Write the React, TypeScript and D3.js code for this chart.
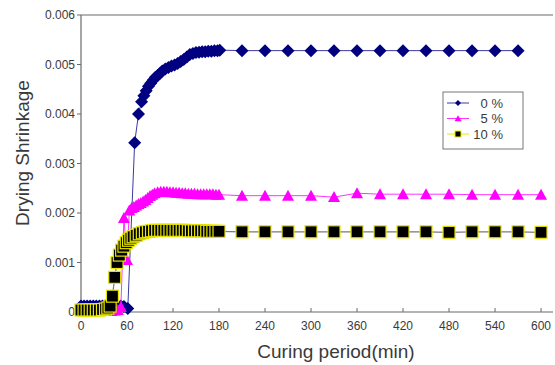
import React from "react";
import * as d3 from "d3";

const xTicks = [0, 60, 120, 180, 240, 300, 360, 420, 480, 540, 600];
const yTicks = [0, 0.001, 0.002, 0.003, 0.004, 0.005, 0.006];
const yTickLabels = ["0", "0.001", "0.002", "0.003", "0.004", "0.005", "0.006"];
const seriesNames = ["0 %", "5 %", "10 %"];

const times0 = [0, 4, 8, 12, 16, 20, 24, 28, 32, 36, 40, 44, 48, 52, 56, 61, 70, 75, 79, 82, 85, 88, 91, 94, 97, 100, 103, 106, 110, 114, 118, 122, 126, 130, 134, 138, 142, 146, 150, 154, 158, 162, 166, 170, 174, 178, 181,
  210, 240, 270, 300, 330, 360, 390, 420, 450, 480, 510, 540, 570];
const values0 = [0.00012, 0.00012, 0.00012, 0.00012, 0.00012, 0.00012, 0.00012, 0.00012, 0.00012, 0.00012, 0.00012, 0.00012, 0.00012, 0.00012, 0.00011, 0.00007, 0.00342, 0.0040, 0.00425, 0.00437, 0.00447, 0.00456, 0.00462, 0.00468, 0.00474, 0.00478, 0.00482, 0.00487, 0.00491, 0.00494, 0.00497, 0.00499, 0.00502, 0.00506, 0.0051, 0.00515, 0.0052, 0.00522, 0.00524, 0.00525, 0.00526, 0.00526, 0.00527, 0.00527, 0.00528, 0.00528, 0.00529,
  0.00528, 0.00528, 0.00528, 0.00528, 0.00528, 0.00528, 0.00528, 0.00528, 0.00528, 0.00528, 0.00528, 0.00528, 0.00528];

const times5 = [0, 4, 8, 12, 16, 20, 24, 28, 32, 36, 40, 44, 48, 52, 56, 60, 63, 66, 69, 72, 75, 78, 81, 84, 87, 90, 93, 96, 100, 104, 108, 112, 116, 120, 124, 128, 132, 136, 140, 144, 148, 152, 156, 160, 164, 168, 172, 176, 180,
  210, 240, 270, 300, 330, 360, 390, 420, 450, 480, 510, 540, 570, 600];
const values5 = [0.00002, 0.00002, 0.00002, 0.00002, 0.00002, 0.00002, 0.00002, 0.00002, 0.00002, 0.00002, 0.00002, 0.00003, 0.00004, 0.0001, 0.0019, 0.00105, 0.00205, 0.0021, 0.00212, 0.00215, 0.00218, 0.0022, 0.00223, 0.00226, 0.0023, 0.00234, 0.00237, 0.0024, 0.00242, 0.00243, 0.00243, 0.00243, 0.00242, 0.00242, 0.00241, 0.00241, 0.0024, 0.0024, 0.00239, 0.00239, 0.00239, 0.00238, 0.00238, 0.00238, 0.00238, 0.00238, 0.00238, 0.00237, 0.00237,
  0.00235, 0.00235, 0.00235, 0.00235, 0.00232, 0.0024, 0.00238, 0.00238, 0.00238, 0.00238, 0.00237, 0.00237, 0.00237, 0.00237];

const times10 = [0, 4, 8, 12, 16, 20, 24, 28, 32, 35, 38, 41, 44, 47, 50, 53, 56, 59, 62, 65, 68, 72, 76, 80, 84, 88, 92, 96, 100, 104, 108, 112, 116, 120, 124, 128, 132, 136, 140, 144, 148, 152, 156, 160, 164, 168, 172, 176, 180,
  210, 240, 270, 300, 330, 360, 390, 420, 450, 480, 510, 540, 570, 600];
const values10 = [0.00004, 0.00004, 0.00004, 0.00004, 0.00004, 0.00004, 0.00004, 0.00005, 0.00006, 0.00008, 0.00012, 0.00032, 0.0007, 0.001, 0.00115, 0.00125, 0.00133, 0.0014, 0.00145, 0.00149, 0.00152, 0.00155, 0.00158, 0.0016, 0.00162, 0.00163, 0.00164, 0.00165, 0.00165, 0.00165, 0.00165, 0.00165, 0.00165, 0.00165, 0.00165, 0.00165, 0.00165, 0.00165, 0.00164, 0.00164, 0.00164, 0.00164, 0.00164, 0.00164, 0.00163, 0.00163, 0.00163, 0.00163, 0.00163,
  0.00162, 0.00162, 0.00162, 0.00162, 0.00162, 0.00162, 0.00162, 0.00162, 0.00162, 0.00161, 0.00162, 0.00162, 0.00162, 0.00161];

const W = 555;
const H = 365;
const FONT = "'Liberation Sans', Arial, sans-serif";

export default function App() {
  const x = d3.scaleLinear().domain([0, 615.6]).range([81, 553]);
  const y = d3.scaleLinear().domain([0, 0.006]).range([312, 15]);

  const line = d3
    .line<[number, number]>()
    .x((d) => x(d[0]))
    .y((d) => y(d[1]));

  const s0 = times0.map((t, i) => [t, values0[i]] as [number, number]);
  const s5 = times5.map((t, i) => [t, values5[i]] as [number, number]);
  const s10 = times10.map((t, i) => [t, values10[i]] as [number, number]);

  const diamond = (cx: number, cy: number, r: number) =>
    `M${cx},${cy - r}L${cx + r},${cy}L${cx},${cy + r}L${cx - r},${cy}Z`;
  const tri = (cx: number, cy: number, w: number, h: number) =>
    `M${cx},${cy - h * 0.55}L${cx + w / 2},${cy + h * 0.45}L${cx - w / 2},${cy + h * 0.45}Z`;

  const axisColor = "#6a6a6a";
  const textColor = "#3a3a3a";

  const legendRows = [103, 118.5, 134];

  return (
    <svg width={W} height={H} style={{ position: "absolute", left: 0, top: 0, background: "#fff" }}>
      <rect x={0} y={0} width={W} height={H} fill="#fff" />
      {/* axes */}
      <line x1={x(0)} x2={x(0)} y1={y(0.006)} y2={y(0)} stroke={axisColor} strokeWidth={1.2} />
      <line x1={x(0)} x2={x(615.6)} y1={y(0.006)} y2={y(0.006)} stroke={axisColor} strokeWidth={1.2} />
      <line x1={x(0)} x2={x(615.6)} y1={y(0)} y2={y(0)} stroke={axisColor} strokeWidth={1.2} />
      {yTicks.map((v, i) => (
        <g key={"yt" + i}>
          <line x1={x(0) - 4} x2={x(0)} y1={y(v)} y2={y(v)} stroke={axisColor} strokeWidth={1} />
          <text x={x(0) - 6} y={y(v)} dy="0.35em" textAnchor="end" fontSize={12} fill={textColor} fontFamily={FONT}>
            {yTickLabels[i]}
          </text>
        </g>
      ))}
      {xTicks.map((v, i) => (
        <g key={"xt" + i}>
          <line x1={x(v)} x2={x(v)} y1={y(0)} y2={y(0) - 4} stroke={axisColor} strokeWidth={1} />
          <text x={x(v)} y={y(0) + 18} textAnchor="middle" fontSize={12} fill={textColor} fontFamily={FONT}>
            {v}
          </text>
        </g>
      ))}
      <text
        transform={`translate(29,153) rotate(-90)`}
        textAnchor="middle"
        fontSize={19}
        fill={textColor}
        fontFamily={FONT}
      >
        Drying Shrinkage
      </text>
      <text x={336} y={358} textAnchor="middle" fontSize={19} fill={textColor} fontFamily={FONT}>
        Curing period(min)
      </text>

      {/* series 0% */}
      <path d={line(s0) || ""} fill="none" stroke="#3a3aa0" strokeWidth={1} />
      {s0.map((d, i) => (
        <path key={"d" + i} d={diamond(x(d[0]), y(d[1]), 6.5)} fill="#000080" />
      ))}
      {/* series 5% */}
      <path d={line(s5) || ""} fill="none" stroke="#ff33ff" strokeWidth={1} />
      {s5.map((d, i) => (
        <path key={"t" + i} d={tri(x(d[0]), y(d[1]), 12, 11)} fill="#ff00ff" />
      ))}
      {/* series 10% */}
      <path d={line(s10) || ""} fill="none" stroke="#7a7a7a" strokeWidth={1.2} />
      {s10.map((d, i) => (
        <rect key={"s" + i} x={x(d[0]) - 6} y={y(d[1]) - 6} width={12} height={12} fill="#000" stroke="#e8e800" strokeWidth={1.2} />
      ))}

      {/* legend */}
      <rect x={443} y={92} width={80} height={57} fill="#fff" stroke="#777" strokeWidth={1} />
      <line x1={447} x2={469} y1={legendRows[0]} y2={legendRows[0]} stroke="#3a3aa0" strokeWidth={1} />
      <path d={diamond(458, legendRows[0], 3)} fill="#000080" />
      <line x1={447} x2={469} y1={legendRows[1]} y2={legendRows[1]} stroke="#ff33ff" strokeWidth={1} />
      <path d={tri(458, legendRows[1], 7, 6)} fill="#ff00ff" />
      <line x1={447} x2={469} y1={legendRows[2]} y2={legendRows[2]} stroke="#e8e800" strokeWidth={1} />
      <rect x={455} y={legendRows[2] - 3} width={6} height={6} fill="#000" stroke="#e8e800" strokeWidth={1} />
      {seriesNames.map((n, i) => (
        <text key={"ln" + i} x={503} y={legendRows[i]} dy="0.35em" textAnchor="end" fontSize={13} fill={textColor} fontFamily={FONT}>
          {n}
        </text>
      ))}
    </svg>
  );
}
